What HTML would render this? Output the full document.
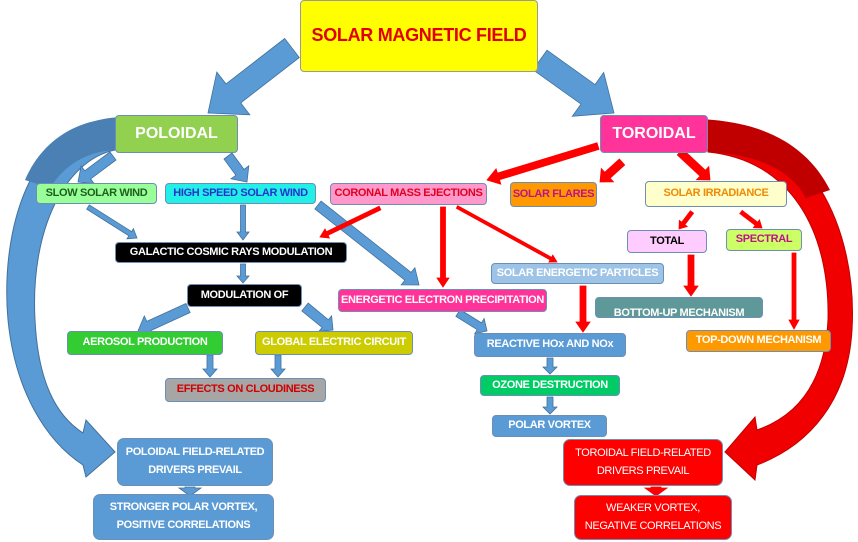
<!DOCTYPE html>
<html><head><meta charset="utf-8"><style>
body{margin:0;width:858px;height:542px;background:#fff;position:relative;overflow:hidden;font-family:"Liberation Sans",sans-serif;font-weight:bold}
svg{position:absolute;left:0;top:0}
.b{position:absolute;box-sizing:border-box;border:1px solid #6d8fb5;border-radius:4px;display:flex;align-items:center;justify-content:center;text-align:center;font-size:11px;letter-spacing:-0.35px;line-height:1.4;white-space:nowrap}
</style></head><body>
<svg id="s" width="858" height="542">
<path d="M115,118 C30,125 0,230 8,320 C15,390 45,440 83,465 L86,477 L115,452 L86,420 L83,433 C55,415 38,380 35,320 C30,230 65,160 115,150 Z" fill="#5b9bd5" stroke="#41719c" stroke-width="1"/>
<path d="M115,118 C70,121 40,145 25,180 L50,188 C65,165 85,152 115,150 Z" fill="#4a80b4"/>
<path d="M708,120 C810,125 858,230 852,330 C848,400 810,445 757,465 L755,480 L725,452 L755,417 L757,430 C800,415 825,380 828,320 C830,230 790,160 708,152 Z" fill="#f00000" stroke="#c00000" stroke-width="1"/>
<path d="M708,120 C770,123 810,150 830,190 L806,198 C790,170 760,155 708,152 Z" fill="#c00000"/>
</svg>
<div class="b" style="left:300px;top:0;width:238px;height:72px;background:#ffff00;color:#e00000;font-size:18px;letter-spacing:-0.3px;border-color:#999">SOLAR MAGNETIC FIELD</div>
<div class="b" style="left:115px;top:115px;width:123px;height:38px;background:#92d050;color:#fff;font-size:16px;letter-spacing:0">POLOIDAL</div>
<div class="b" style="left:600px;top:115px;width:108px;height:38px;background:#ff3399;color:#fff;font-size:16px;letter-spacing:0">TOROIDAL</div>
<div class="b" style="left:36px;top:183px;width:121px;height:21px;background:#99ff99;color:#1e5e1e">SLOW SOLAR WIND</div>
<div class="b" style="left:165px;top:183px;width:151px;height:21px;background:#22f0e6;color:#2433d0">HIGH SPEED SOLAR WIND</div>
<div class="b" style="left:330px;top:183px;width:157px;height:22px;background:#ff99cc;color:#e00020">CORONAL MASS EJECTIONS</div>
<div class="b" style="left:510px;top:182px;width:87px;height:25px;background:#ff9900;color:#c0108a">SOLAR FLARES</div>
<div class="b" style="left:645px;top:181px;width:142px;height:26px;background:#ffffcc;color:#f08a00">SOLAR IRRADIANCE</div>
<div class="b" style="left:115px;top:242px;width:232px;height:21px;background:#000;color:#fff">GALACTIC COSMIC RAYS MODULATION</div>
<div class="b" style="left:627px;top:230px;width:80px;height:23px;background:#ffccff;color:#000">TOTAL</div>
<div class="b" style="left:726px;top:229px;width:76px;height:22px;background:#ccff66;color:#c0108a">SPECTRAL</div>
<div class="b" style="left:491px;top:263px;width:173px;height:21px;background:#9dc3e6;color:#fff">SOLAR ENERGETIC PARTICLES</div>
<div class="b" style="left:187px;top:284px;width:115px;height:23px;background:#000;color:#fff">MODULATION OF</div>
<div class="b" style="left:338px;top:289px;width:209px;height:23px;background:#ff3399;color:#fff">ENERGETIC ELECTRON PRECIPITATION</div>
<div class="b" style="left:595px;top:297px;width:168px;height:21px;background:#5f9898;color:#fff;overflow:hidden"><span style="position:relative;top:6px">BOTTOM-UP MECHANISM</span></div>
<div class="b" style="left:67px;top:331px;width:156px;height:24px;background:#33cc33;color:#fff">AEROSOL PRODUCTION</div>
<div class="b" style="left:255px;top:331px;width:158px;height:24px;background:#cccc00;color:#fff">GLOBAL ELECTRIC CIRCUIT</div>
<div class="b" style="left:474px;top:333px;width:152px;height:24px;background:#5b9bd5;color:#fff">REACTIVE HOx AND NOx</div>
<div class="b" style="left:686px;top:330px;width:145px;height:22px;background:#ff9900;color:#fff">TOP-DOWN MECHANISM</div>
<div class="b" style="left:165px;top:378px;width:161px;height:24px;background:#a6a6a6;color:#d00000">EFFECTS ON CLOUDINESS</div>
<div class="b" style="left:480px;top:375px;width:140px;height:21px;background:#00cc66;color:#fff">OZONE DESTRUCTION</div>
<div class="b" style="left:492px;top:415px;width:115px;height:22px;background:#5b9bd5;color:#fff">POLAR VORTEX</div>
<div class="b" style="left:117px;top:438px;width:156px;height:48px;background:#5b9bd5;color:#fff;border-radius:7px;line-height:1.6">POLOIDAL FIELD-RELATED<br>DRIVERS PREVAIL</div>
<div class="b" style="left:93px;top:494px;width:181px;height:46px;background:#5b9bd5;color:#fff;border-radius:7px;line-height:1.6">STRONGER POLAR VORTEX,<br>POSITIVE CORRELATIONS</div>
<div class="b" style="left:563px;top:439px;width:160px;height:47px;background:#ff0000;color:#fff;border-radius:7px;line-height:1.6;font-weight:normal">TOROIDAL FIELD-RELATED<br>DRIVERS PREVAIL</div>
<div class="b" style="left:574px;top:495px;width:158px;height:45px;background:#ff0000;color:#fff;border-radius:7px;line-height:1.6;font-weight:normal">WEAKER VORTEX,<br>NEGATIVE CORRELATIONS</div>
<script>
var s=document.getElementById('s');
function A(x1,y1,x2,y2,sw,hw,hl,c,st){
 var dx=x2-x1,dy=y2-y1,L=Math.sqrt(dx*dx+dy*dy),ux=dx/L,uy=dy/L,px=-uy,py=ux;
 var bx=x2-ux*hl,by=y2-uy*hl;
 var p=[[x1+px*sw/2,y1+py*sw/2],[bx+px*sw/2,by+py*sw/2],[bx+px*hw/2,by+py*hw/2],[x2,y2],[bx-px*hw/2,by-py*hw/2],[bx-px*sw/2,by-py*sw/2],[x1-px*sw/2,y1-py*sw/2]];
 var e=document.createElementNS('http://www.w3.org/2000/svg','polygon');
 e.setAttribute('points',p.map(function(q){return q[0].toFixed(1)+','+q[1].toFixed(1)}).join(' '));
 e.setAttribute('fill',c);e.setAttribute('stroke',st||c);e.setAttribute('stroke-width','0.8');
 s.appendChild(e);
}
var B='#5b9bd5',K='#41719c',R='#ff0000';
A(292,48,208,113,24,54,32,B,K);
A(540,60,614,113,24,54,32,B,K);
A(113,156,78,182,10,22,12,B,K);
A(228,156,247,182,10,22,12,B,K);
A(88,207,137,238,5,12,8,B,K);
A(243,205,243,240,5,12,8,B,K);
A(318,205,419,285,10,22,14,B,K);
A(243,264,243,283,5,12,7,B,K);
A(188,308,138,331,10,22,12,B,K);
A(305,307,333,330,10,20,10,B,K);
A(210,355,210,377,6,14,8,B,K);
A(278,355,278,377,6,14,8,B,K);
A(458,313,487,331,8,18,9,B,K);
A(550,358,550,374,6,14,7,B,K);
A(550,397,550,414,6,14,7,B,K);
A(190,487,190,496,10,22,8,B,K);
A(598,146,487,180,7,16,12,R);
A(622,162,600,182,8,18,10,R);
A(680,152,710,180,8,18,10,R);
A(380,208,320,237,4,10,8,R);
A(443,207,443,287,5,12,9,R);
A(457,207,557,262,3,8,7,R);
A(692,212,679,229,4,10,7,R);
A(741,212,762,228,4,10,7,R);
A(583,286,583,332,6,14,10,R);
A(691,255,691,296,6,14,10,R);
A(794,253,794,329,4,10,9,R);
A(656,487,656,496,10,22,8,R);
</script>
</body></html>
